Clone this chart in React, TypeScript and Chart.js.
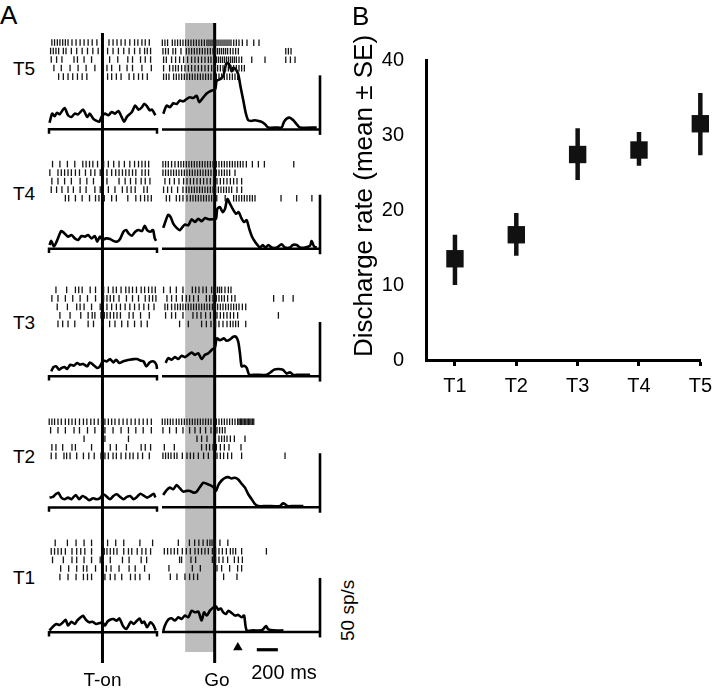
import React, { useEffect, useRef } from 'react';
import { Chart, registerables } from 'chart.js';

Chart.register(...registerables);

const FONT = '"Liberation Sans", Arial, Helvetica, sans-serif';

// ---------------- Panel A data ----------------
// Spike times (ms) per trial, aligned on target onset (T-on) and on the Go signal.
const spikesT5On = [
  [-473, -448, -422, -398, -372, -347, -322, -285, -247, -209, -172, -134, -96, -52, 61, 99, 136, 174, 212, 256, 300, 331, 369, 400, 438],
  [-485, -460, -435, -410, -366, -341, -291, -241, -190, -140, -90, -40, 48, 99, 149, 199, 249, 300, 350, 394, 419, 450],
  [-479, -429, -379, -266, -234, -172, -102, 67, 143, 237, 281, 356, 400, 450],
  [-454, -385, -303, -228, -153, -71, 42, 86, 161, 230, 281, 369, 457],
  [-410, -366, -322, -278, -234, -190, -146, 48, 86, 130, 174, 249, 293, 337, 375, 419],
];
const spikesT5Go = [
  [-497, -472, -447, -402, -377, -352, -326, -301, -276, -250, -225, -200, -174, -149, -124, -98, -73, -54, -35, -16, 3, 22, 41, 60, 79, 98, 117, 136, 155, 181, 206, 231, 263, 307, 371, 421],
  [-491, -466, -440, -396, -371, -320, -269, -244, -219, -193, -168, -143, -117, -92, -67, -41, -16, 9, 28, 47, 66, 85, 104, 123, 149, 174, 199, 225, 675, 700, 725],
  [-485, -459, -409, -371, -333, -295, -257, -219, -187, -155, -124, -92, -60, -35, -10, 16, 35, 54, 73, 92, 111, 130, 149, 168, 187, 206, 231, 256, 352, 478, 675, 719, 763],
  [-485, -428, -396, -371, -345, -314, -282, -250, -219, -187, -155, -124, -92, -60, -29, 3, 28, 54, 79, 104, 130, 155, 180, 206, 231, 256, 282],
  [-485, -459, -434, -390, -364, -339, -314, -288, -263, -238, -212, -187, -162, -136, -111, -86, -60, -35, -10, 16, 41, 66, 92, 117, 142, 168, 193, 218],
];
const spikesT4On = [
  [-467, -398, -328, -259, -184, -153, -121, -90, -46, 11, 55, 105, 155, 205, 256, 300, 337, 369, 400, 432],
  [-492, -416, -385, -354, -322, -291, -253, -215, -159, -109, -71, -21, 42, 86, 124, 155, 187, 218, 249, 281, 312, 369, 400, 431],
  [-473, -416, -354, -291, -209, -146, -84, 42, 155, 212, 262, 312, 362, 400, 444],
  [-479, -429, -379, -322, -272, -209, -153, -71, -21, 55, 117, 186, 230, 268, 306, 387, 419],
  [-347, -316, -253, -190, -121, -65, -33, 17, 86, 130, 237, 312, 356, 394, 425, 457],
];
const spikesT4Go = [
  [-491, -466, -440, -409, -377, -345, -320, -295, -269, -244, -219, -193, -168, -143, -117, -92, -67, -41, -16, 16, 41, 66, 92, 117, 142, 168, 193, 218, 244, 269, 301, 358, 415, 472, 751],
  [-491, -466, -440, -415, -390, -364, -339, -314, -288, -263, -238, -212, -187, -162, -136, -111, -86, -60, -35, -10, 16, 41, 66, 92, 117, 142, 193],
  [-472, -428, -383, -339, -295, -263, -231, -200, -168, -136, -105, -73, -41, -10, 22, 54, 85, 117, 149, 180, 212, 256],
  [-485, -447, -409, -352, -301, -269, -244, -219, -193, -168, -143, -117, -92, -67, -41, -16, 9, 35, 60, 85, 111, 136, 161, 212, 256],
  [-459, -428, -364, -333, -301, -263, -231, -206, -181, -155, -130, -105, -79, -54, -29, 20, 100, 180, 206, 231, 256, 282, 307, 333, 358, 383, 630, 779, 923],
];
const spikesT3On = [
  [-435, -335, -253, -222, -190, -115, -65, 11, 55, 99, 130, 174, 218, 249, 281, 318, 362, 394, 431, 463, 494],
  [-473, -416, -347, -278, -209, -140, -65, 11, 42, 73, 105, 155, 224, 281, 337, 400, 438, 469, 500],
  [-423, -328, -241, -209, -172, -102, -21, 42, 86, 130, 168, 212, 256, 300, 343, 387, 431, 482],
  [-398, -303, -203, -134, -96, -71, -14, 17, 42, 73, 105, 136, 168, 249, 287, 356, 438],
  [-416, -372, -322, -259, -134, -84, -8, 67, 117, 180, 237, 300, 362, 419],
];
const spikesT3Go = [
  [-485, -421, -364, -301, -212, -181, -149, -111, -79, -29, -10, 9, 28, 47, 66, 98, 130, 155],
  [-453, -409, -364, -307, -269, -238, -200, -155, -79, -48, -16, 16, 41, 66, 92, 123, 161, 193, 560, 650, 745],
  [-472, -447, -409, -377, -352, -326, -301, -276, -250, -225, -200, -174, -149, -124, -98, -73, -48, -22, 3, 28, 54, 79, 104, 130, 155, 180, 206, 231, 263, 295],
  [-466, -409, -371, -301, -206, -168, -130, -86, -41, -10, 22, 54, 85, 117, 149, 180, 218, 605],
  [-333, -250, -124, -79, -35, 9, 41, 79, 117, 149, 174, 199, 225, 295],
];
const spikesT2On = [
  [-498, -473, -448, -416, -385, -347, -316, -285, -253, -215, -178, -146, -109, -77, -40, -8, 23, 55, 86, 117, 155, 193, 230, 268, 306, 343, 381, 419, 457],
  [-485, -416, -347, -266, -215, -140, -71, 23, 99, 174, 243, 312, 381, 457],
  [-172, 23, 243],
  [-473, -435, -372, -285, -253, -102, 73, 130, 224, 362, 400, 450],
  [-479, -435, -360, -335, -303, -241, -178, -128, -77, -14, 23, 55, 99, 130, 174, 218, 256, 287, 331, 375, 438],
];
const spikesT2Go = [
  [-497, -472, -447, -421, -396, -364, -339, -314, -288, -263, -238, -212, -187, -162, -136, -111, -86, -60, -35, -10, 16, 41, 66, 92, 117, 142, 168, 193, 218, 231, 244, 256, 269, 282, 295, 308, 320, 333, 345, 358, 371],
  [-491, -428, -364, -301, -238, -187, -136, -86, -35, 22, 47, 73, 98],
  [-168, -124, -73, 41, 66, 92, 117, 149, 187, 288],
  [-478, -383, -124, -79, -48, -16, 16, 54, 92, 136, 250],
  [-491, -466, -440, -415, -383, -358, -307, -263, -231, -200, -155, -105, -60, -10, 22, 54, 85, 123, 161, 256, 668],
];
const spikesT1On = [
  [-442, -328, -247, -172, -102, 0, 48, 124, 199, 350, 469],
  [-479, -448, -416, -385, -347, -285, -241, -203, -165, -102, 17, 42, 73, 105, 136, 199, 243, 274, 325, 369, 406, 450],
  [-467, -366, -285, -241, -172, -102, -21, 73, 187, 249, 362, 413],
  [-391, -316, -241, -178, -146, -65, 36, 80, 155, 249, 306, 394],
  [-398, -322, -247, -178, -140, -102, 23, 73, 117, 180, 262, 306, 350, 438],
];
const spikesT1Go = [
  [-345, -240, -190, -150, -110, -70, -45, -25, 5, 50, 125],
  [-478, -447, -415, -383, -352, -307, -269, -231, -187, -155, -124, -92, -60, -22, 9, 41, 73, 111, 149, 174, 199, 256, 491],
  [-333, -314, -225, -181, -22, 9, 41, 79, 123, 187, 225, 263],
  [-434, -212, -136, -3, 22, 66, 142, 218, 256],
  [-421, -358, -282, -238, -200, -162, 85, 212],
];

// PSTHs: [time ms, rate sp/s]
const psthT5On = [[-495, 6.1], [-470, 14.5], [-448, 12.1], [-426, 15.2], [-401, 13.9], [-354, 19.7], [-322, 13], [-290, 11.5], [-259, 14.5], [-228, 13.9], [-181, 18.2], [-143, 11.5], [-118, 14.5], [-87, 10], [-55, 7.9], [-30, 7], [-5, 12.1], [24, 14.5], [55, 13], [87, 16], [118, 14.5], [149, 17], [172, 13], [203, 7], [228, 11.5], [275, 16], [306, 22], [338, 18.2], [370, 20.6], [391, 23.6], [417, 21.2], [442, 17.6], [464, 18.2], [495, 13]];
const psthT5Go = [[-488, 14.5], [-456, 22], [-425, 20.6], [-393, 24.2], [-361, 23.6], [-330, 26.7], [-298, 26], [-266, 28.2], [-235, 29.7], [-203, 29.1], [-171, 31.2], [-146, 25.2], [-108, 29.7], [-76, 33.3], [-45, 35.2], [-13, 36.4], [6, 37.3], [19, 44.8], [50, 46.4], [82, 49.4], [98, 57], [114, 61.5], [139, 60], [161, 53.9], [177, 57], [202, 55.5], [224, 50.9], [247, 38.8], [272, 26.7], [297, 14.5], [319, 8.5], [351, 7.9], [383, 8.5], [414, 7.9], [446, 7], [478, 4.8], [509, 1.8], [589, 1.8], [636, 1.8], [658, 7], [684, 10], [715, 10.9], [747, 8.5], [779, 4.8], [810, 1.8], [969, 1.8]];
const psthT4On = [[-495, 3.6], [-479, 7.3], [-454, 2.1], [-426, 7.3], [-385, 16.4], [-354, 14.2], [-322, 11.2], [-290, 12.7], [-259, 9.6], [-228, 8.2], [-196, 11.8], [-165, 11.2], [-134, 12.7], [-102, 9.6], [-71, 11.8], [-49, 6.6], [-24, 11.2], [1, 8.2], [33, 9.6], [71, 9.1], [102, 7.3], [133, 6.6], [165, 9.1], [196, 15.7], [222, 17.3], [244, 14.2], [275, 12.1], [306, 15.7], [338, 17.3], [370, 16.4], [395, 21.2], [417, 17.3], [448, 15.7], [473, 17.3], [489, 9.6], [501, 7.3]];
const psthT4Go = [[-488, 19.4], [-463, 26.4], [-441, 31.5], [-418, 29.4], [-393, 23.3], [-361, 19.4], [-330, 17.3], [-304, 20.3], [-282, 22.4], [-250, 21.8], [-219, 27.3], [-187, 24.8], [-155, 27.8], [-124, 25.5], [-92, 28.5], [-60, 27.3], [-13, 27.3], [13, 27.8], [25, 36.9], [50, 38.5], [76, 33.9], [98, 36.9], [120, 46], [146, 41.5], [171, 36.9], [202, 32.4], [228, 33.9], [253, 28.5], [279, 24.8], [304, 26.4], [329, 18.2], [355, 11.2], [383, 6.6], [406, 3.6], [431, 1.2], [456, 3.6], [481, 1.2], [510, 3.6], [541, 1.2], [589, 1.2], [636, 4.2], [668, 1.2], [715, 1.2], [741, 3.6], [779, 3.6], [810, 1.2], [858, 1.2], [906, 3], [921, 7.3], [944, 2.1], [969, 1.2]];
const psthT3On = [[-479, 4.5], [-457, 8.5], [-432, 9.1], [-407, 6.1], [-382, 7.6], [-354, 8.5], [-331, 6.7], [-300, 10.6], [-269, 9.7], [-237, 12.2], [-212, 10.6], [-181, 11.3], [-143, 9.1], [-118, 12.7], [-87, 10.6], [-49, 7.6], [-24, 9.1], [8, 14.5], [39, 13.6], [71, 15.8], [102, 12.7], [127, 15.2], [159, 12.2], [190, 13.6], [222, 14.5], [253, 15.2], [291, 15.8], [322, 15.8], [354, 14.5], [385, 13.6], [410, 9.1], [442, 12.7], [479, 13.6], [504, 10.6], [510, 6.7]];
const psthT3Go = [[-466, 12.2], [-441, 16.7], [-409, 15.2], [-377, 17.6], [-346, 15.8], [-314, 18.8], [-282, 17.6], [-250, 19.7], [-219, 21.8], [-187, 19.7], [-155, 21.2], [-124, 15.8], [-92, 19.7], [-60, 21.2], [-29, 24.2], [3, 26.7], [19, 34.9], [50, 33.3], [88, 34.9], [114, 32.7], [146, 34], [177, 36.4], [202, 36.4], [224, 31.8], [240, 21.2], [256, 9.1], [279, 9.7], [304, 7.6], [329, 1.2], [367, 1.2], [431, 1.2], [494, 1.2], [532, 3.6], [564, 6.1], [605, 6.7], [646, 6.1], [684, 2.4], [715, 3.6], [747, 1.2], [779, 1.2], [906, 1.2]];
const psthT2On = [[-495, 9.1], [-463, 9.7], [-438, 12.1], [-413, 13.6], [-385, 9.1], [-354, 7.6], [-322, 9.1], [-290, 7.6], [-250, 11.5], [-218, 7.6], [-187, 10.6], [-156, 9.1], [-124, 6.7], [-87, 8.5], [-55, 7.6], [-24, 8.5], [8, 12.1], [33, 10.6], [71, 7.6], [102, 10.6], [133, 12.1], [165, 9.7], [196, 7.6], [228, 9.7], [259, 10.6], [291, 7.6], [322, 9.7], [354, 12.7], [391, 10.6], [417, 9.1], [448, 10.6], [479, 12.7], [495, 9.1]];
const psthT2Go = [[-488, 11.5], [-456, 15.8], [-425, 18.2], [-393, 16.7], [-361, 20.6], [-330, 17.6], [-298, 14.5], [-266, 15.2], [-235, 15.2], [-203, 13.6], [-171, 14.5], [-140, 18.8], [-108, 22.7], [-76, 21.8], [-45, 20.6], [-13, 18.8], [13, 15.2], [35, 20.6], [66, 24.8], [98, 27.3], [130, 27.9], [161, 26.7], [193, 27.3], [224, 25.8], [256, 21.8], [288, 18.2], [319, 12.1], [351, 7.6], [383, 3], [414, 1.2], [494, 1.2], [620, 1.2], [646, 3.6], [668, 3], [690, 1.2], [747, 1.2], [842, 1.2]];
const psthT1On = [[-495, 1.5], [-470, 4.5], [-432, 7.6], [-401, 6.7], [-369, 9.1], [-344, 11.5], [-322, 6.1], [-290, 9.7], [-259, 7.6], [-237, 10.6], [-206, 13.6], [-181, 15.2], [-156, 11.5], [-124, 9.1], [-93, 9.7], [-61, 7.6], [-24, 8.5], [1, 9.1], [24, 6.1], [46, 9.7], [71, 11.5], [102, 12.1], [133, 10.6], [159, 12.7], [190, 6.1], [222, 3], [244, 6.1], [266, 9.7], [291, 7.6], [322, 10.6], [347, 12.7], [370, 8.5], [391, 9.7], [417, 4.5], [448, 9.1], [479, 6.1], [498, 1.5]];
const psthT1Go = [[-488, 1], [-472, 6.1], [-441, 11.5], [-409, 12.7], [-377, 10.6], [-346, 13.6], [-314, 12.1], [-282, 15.2], [-250, 13.6], [-219, 19.7], [-187, 18.2], [-155, 18.8], [-124, 10.6], [-101, 18.2], [-76, 15.2], [-45, 19.7], [-13, 22.7], [13, 23.6], [35, 20.6], [57, 21.8], [82, 18.2], [108, 16.7], [130, 19.7], [161, 17.6], [193, 15.2], [224, 15.8], [256, 13.6], [279, 15.2], [304, 1.5], [367, 1.5], [446, 1.5], [469, 3.6], [488, 5.5], [510, 2.4], [557, 1.5], [652, 1.5]];

const ROW_LABELS = ['T5', 'T4', 'T3', 'T2', 'T1'];
const TRIAL_NUMBERS = [1, 2, 3, 4, 5];
const RASTER_ON = [spikesT5On, spikesT4On, spikesT3On, spikesT2On, spikesT1On];
const RASTER_GO = [spikesT5Go, spikesT4Go, spikesT3Go, spikesT2Go, spikesT1Go];
const PSTH_ON = [psthT5On, psthT4On, psthT3On, psthT2On, psthT1On];
const PSTH_GO = [psthT5Go, psthT4Go, psthT3Go, psthT2Go, psthT1Go];

const ON_WINDOW = [-500, 510];
const GO_WINDOW = [-500, 1000];
const GO_SHADE = [-280, 0];
const MOVE_ONSET_MS = 220;
const TIME_BAR_MS = [400, 600];
const RATE_BAR_HZ = [-5, 50];

// ---------------- Panel B data ----------------
const categories = ['T1', 'T2', 'T3', 'T4', 'T5'];
const meanRate = [13.5, 16.7, 27.4, 28.0, 31.5];
const seLow = [10.0, 13.9, 24.0, 25.9, 27.3];
const seHigh = [16.7, 19.6, 30.9, 30.4, 35.6];
const yTicksB = [0, 10, 20, 30, 40];

// ---------------- layout (pixels) ----------------
const A_H = 688;
const ROW_BASE_Y = [126, 247.3, 376.7, 510, 636.7];
const RASTER_FIRST_Y = [37.8, 161.3, 289, 423, 546];
const RASTER_PITCH = 8.65;
const PX_PER_HZ = 1.1;
const END_TICK_HZ = 4;
const SHADE_Y = [23, 652];
const EVENT_LINE_BOTTOM = 663;
const MARKER_Y = 652.5;
const TIMEBAR_Y = 654.7;

function eventPlugin(kind: 'on' | 'go') {
  return {
    id: 'events_' + kind,
    beforeDatasetsDraw(chart: any) {
      const ctx = chart.ctx;
      const xs = chart.scales.x;
      ctx.save();
      if (kind === 'go') {
        const x0 = xs.getPixelForValue(GO_SHADE[0]);
        const x1 = xs.getPixelForValue(GO_SHADE[1]);
        ctx.fillStyle = '#bdbdbd';
        ctx.fillRect(x0, SHADE_Y[0], x1 - x0, SHADE_Y[1] - SHADE_Y[0]);
      }
      const xe = xs.getPixelForValue(0);
      ctx.strokeStyle = '#000';
      ctx.lineWidth = 3;
      ctx.beginPath();
      ctx.moveTo(xe, kind === 'go' ? 23 : 33);
      ctx.lineTo(xe, EVENT_LINE_BOTTOM);
      ctx.stroke();
      ctx.restore();
    },
  };
}

function panelAConfig(kind: 'on' | 'go', padL: number, padR: number): any {
  const win = kind === 'on' ? ON_WINDOW : GO_WINDOW;
  const rasters = kind === 'on' ? RASTER_ON : RASTER_GO;
  const psths = kind === 'on' ? PSTH_ON : PSTH_GO;
  const scales: any = {
    x: { type: 'linear', axis: 'x', position: 'bottom', min: win[0], max: win[1], display: false, bounds: 'data', offset: false },
  };
  const datasets: any[] = [];
  ROW_LABELS.forEach((label, i) => {
    const rId = 'yRaster' + i;
    const pId = 'yRate' + i;
    const rMin = 1 - RASTER_FIRST_Y[i] / RASTER_PITCH;
    scales[rId] = { type: 'linear', axis: 'y', position: 'left', display: false, reverse: true, bounds: 'data', min: rMin, max: rMin + A_H / RASTER_PITCH };
    const pMax = ROW_BASE_Y[i] / PX_PER_HZ;
    scales[pId] = { type: 'linear', axis: 'y', position: 'left', display: false, bounds: 'data', min: pMax - A_H / PX_PER_HZ, max: pMax };

    datasets.push({
      type: 'scatter',
      label: label + ' raster',
      xAxisID: 'x',
      yAxisID: rId,
      data: rasters[i].flatMap((trial, j) => trial.map((t) => ({ x: t, y: TRIAL_NUMBERS[j] }))),
      pointStyle: 'line',
      rotation: 90,
      pointRadius: 3.3,
      pointBorderWidth: 1.3,
      pointBorderColor: '#151515',
      pointBackgroundColor: '#151515',
      borderWidth: 1.3,
      borderColor: '#151515',
      backgroundColor: '#151515',
      clip: false,
    });
    const base = kind === 'on'
      ? [{ x: win[0], y: -END_TICK_HZ }, { x: win[0], y: 0 }, { x: win[1], y: 0 }, { x: win[1], y: -END_TICK_HZ }]
      : [{ x: win[0], y: 0 }, { x: win[1], y: 0 }];
    datasets.push({
      type: 'line', label: label + ' axis', xAxisID: 'x', yAxisID: pId, data: base,
      borderColor: '#000', borderWidth: 2.5, pointRadius: 0, tension: 0, clip: false,
    });
    datasets.push({
      type: 'line', label: label + ' psth', xAxisID: 'x', yAxisID: pId,
      data: psths[i].map(([t, hz]) => ({ x: t, y: hz })),
      borderColor: '#000', borderWidth: 2.6, pointRadius: 0, tension: 0.25, clip: false,
      borderJoinStyle: 'round',
    });
    if (kind === 'go') {
      datasets.push({
        type: 'line', label: label + ' 50 sp/s', xAxisID: 'x', yAxisID: pId,
        data: [{ x: win[1], y: RATE_BAR_HZ[0] }, { x: win[1], y: RATE_BAR_HZ[1] }],
        borderColor: '#000', borderWidth: 2.6, pointRadius: 0, clip: false, borderCapStyle: 'butt',
      });
    }
  });
  if (kind === 'go') {
    const last = ROW_LABELS.length - 1;
    datasets.push({
      type: 'scatter', label: 'movement onset', xAxisID: 'x', yAxisID: 'yRate' + last,
      data: [{ x: MOVE_ONSET_MS, y: (ROW_BASE_Y[last] - MARKER_Y) / PX_PER_HZ }],
      pointStyle: 'triangle', pointRadius: 5.5, backgroundColor: '#000', borderColor: '#000', borderWidth: 0, clip: false,
    });
    datasets.push({
      type: 'line', label: '200 ms', xAxisID: 'x', yAxisID: 'yRate' + last,
      data: TIME_BAR_MS.map((t) => ({ x: t, y: (ROW_BASE_Y[last] - TIMEBAR_Y) / PX_PER_HZ })),
      borderColor: '#000', borderWidth: 3.2, pointRadius: 0, clip: false, borderCapStyle: 'butt',
    });
  }
  return {
    type: 'scatter',
    data: { datasets },
    options: {
      responsive: false,
      animation: false,
      events: [],
      layout: { padding: { left: padL, right: padR, top: 0, bottom: 0 } },
      plugins: { legend: { display: false }, tooltip: { enabled: false } },
      scales,
    },
    plugins: [eventPlugin(kind)],
  };
}

function panelBConfig(): any {
  const datasets: any[] = categories.map((c, i) => ({
    type: 'line',
    label: c + ' SE',
    data: [{ x: i, y: seLow[i] }, { x: i, y: seHigh[i] }],
    borderColor: '#111',
    borderWidth: 4.5,
    pointRadius: 0,
    borderCapStyle: 'butt',
    clip: false,
  }));
  datasets.push({
    type: 'scatter',
    label: 'mean',
    data: meanRate.map((m, i) => ({ x: i, y: m })),
    pointStyle: 'rect',
    pointRadius: 12.3,
    backgroundColor: '#111',
    borderColor: '#111',
    borderWidth: 0,
    clip: false,
  });
  return {
    type: 'scatter',
    data: { datasets },
    options: {
      responsive: false,
      animation: false,
      events: [],
      layout: { padding: { top: 60, right: 10, left: 0, bottom: 0 } },
      plugins: { legend: { display: false }, tooltip: { enabled: false } },
      scales: {
        x: {
          type: 'linear',
          min: -0.472,
          max: 4,
          offset: false,
          afterBuildTicks: (s: any) => { s.ticks = categories.map((_, i) => ({ value: i })); },
          afterFit: (s: any) => { s.height = 50; },
          ticks: {
            callback: (v: any) => categories[v] ?? '',
            font: { size: 20, family: FONT },
            color: '#000',
            padding: 8,
            maxRotation: 0,
            autoSkip: false,
          },
          grid: { display: true, drawOnChartArea: false, drawTicks: true, tickLength: 6, tickWidth: 3, tickColor: '#000', color: '#000', offset: false },
          border: { display: true, width: 3, color: '#000' },
        },
        y: {
          type: 'linear',
          min: 0,
          max: 40,
          afterBuildTicks: (s: any) => { s.ticks = yTicksB.map((v) => ({ value: v })); },
          afterFit: (s: any) => { s.width = 86; },
          ticks: { font: { size: 20, family: FONT }, color: '#000', padding: 22 },
          grid: { display: false, drawTicks: false },
          border: { display: true, width: 3, color: '#000' },
        },
      },
    },
  };
}

function ChartCanvas({ make, left, top, width, height }: { make: () => any; left: number; top: number; width: number; height: number }) {
  const ref = useRef<HTMLCanvasElement | null>(null);
  useEffect(() => {
    if (!ref.current) return;
    const chart = new Chart(ref.current, make());
    return () => chart.destroy();
  }, []);
  return (
    <canvas
      ref={ref}
      width={width}
      height={height}
      style={{ position: 'absolute', left, top, width, height }}
    />
  );
}

const txt = (extra: any) => ({ position: 'absolute' as const, whiteSpace: 'nowrap' as const, ...extra });

const ROW_LABEL_TOP = [59.2, 184, 313.2, 446.7, 568.2];

export default function App() {
  return (
    <div
      style={{
        position: 'absolute',
        left: 0,
        top: 0,
        width: 720,
        height: 688,
        background: '#fff',
        overflow: 'hidden',
        fontFamily: FONT,
        color: '#000',
      }}
    >
      <ChartCanvas make={() => panelAConfig('on', 9, 9)} left={40} top={0} width={126} height={688} />
      <ChartCanvas make={() => panelAConfig('go', 10, 12)} left={152} top={0} width={180} height={688} />
      <ChartCanvas make={panelBConfig} left={340} top={0} width={380} height={410} />

      <div style={txt({ left: 0, top: 2, fontSize: 26, lineHeight: '26px' })}>A</div>
      <div style={txt({ left: 352, top: 3, fontSize: 26, lineHeight: '26px' })}>B</div>
      {ROW_LABELS.map((l, i) => (
        <div key={l} style={txt({ left: 13, top: ROW_LABEL_TOP[i], fontSize: 19, lineHeight: '19px' })}>{l}</div>
      ))}
      <div style={txt({ left: 102.5, top: 670.2, fontSize: 19, lineHeight: '19px', transform: 'translateX(-50%)' })}>T-on</div>
      <div style={txt({ left: 217, top: 670, fontSize: 19, lineHeight: '19px', transform: 'translateX(-50%)' })}>Go</div>
      <div style={txt({ left: 284, top: 662.3, fontSize: 20, lineHeight: '20px', transform: 'translateX(-50%)' })}>200 ms</div>
      <div style={txt({ left: 337.5, top: 641, fontSize: 19, lineHeight: '19px', transform: 'rotate(-90deg)', transformOrigin: 'left top' })}>50 sp/s</div>
      <div style={txt({ left: 350, top: 357, fontSize: 26, lineHeight: '26px', transform: 'rotate(-90deg)', transformOrigin: 'left top' })}>
        Discharge rate (mean ± SE)
      </div>
    </div>
  );
}
